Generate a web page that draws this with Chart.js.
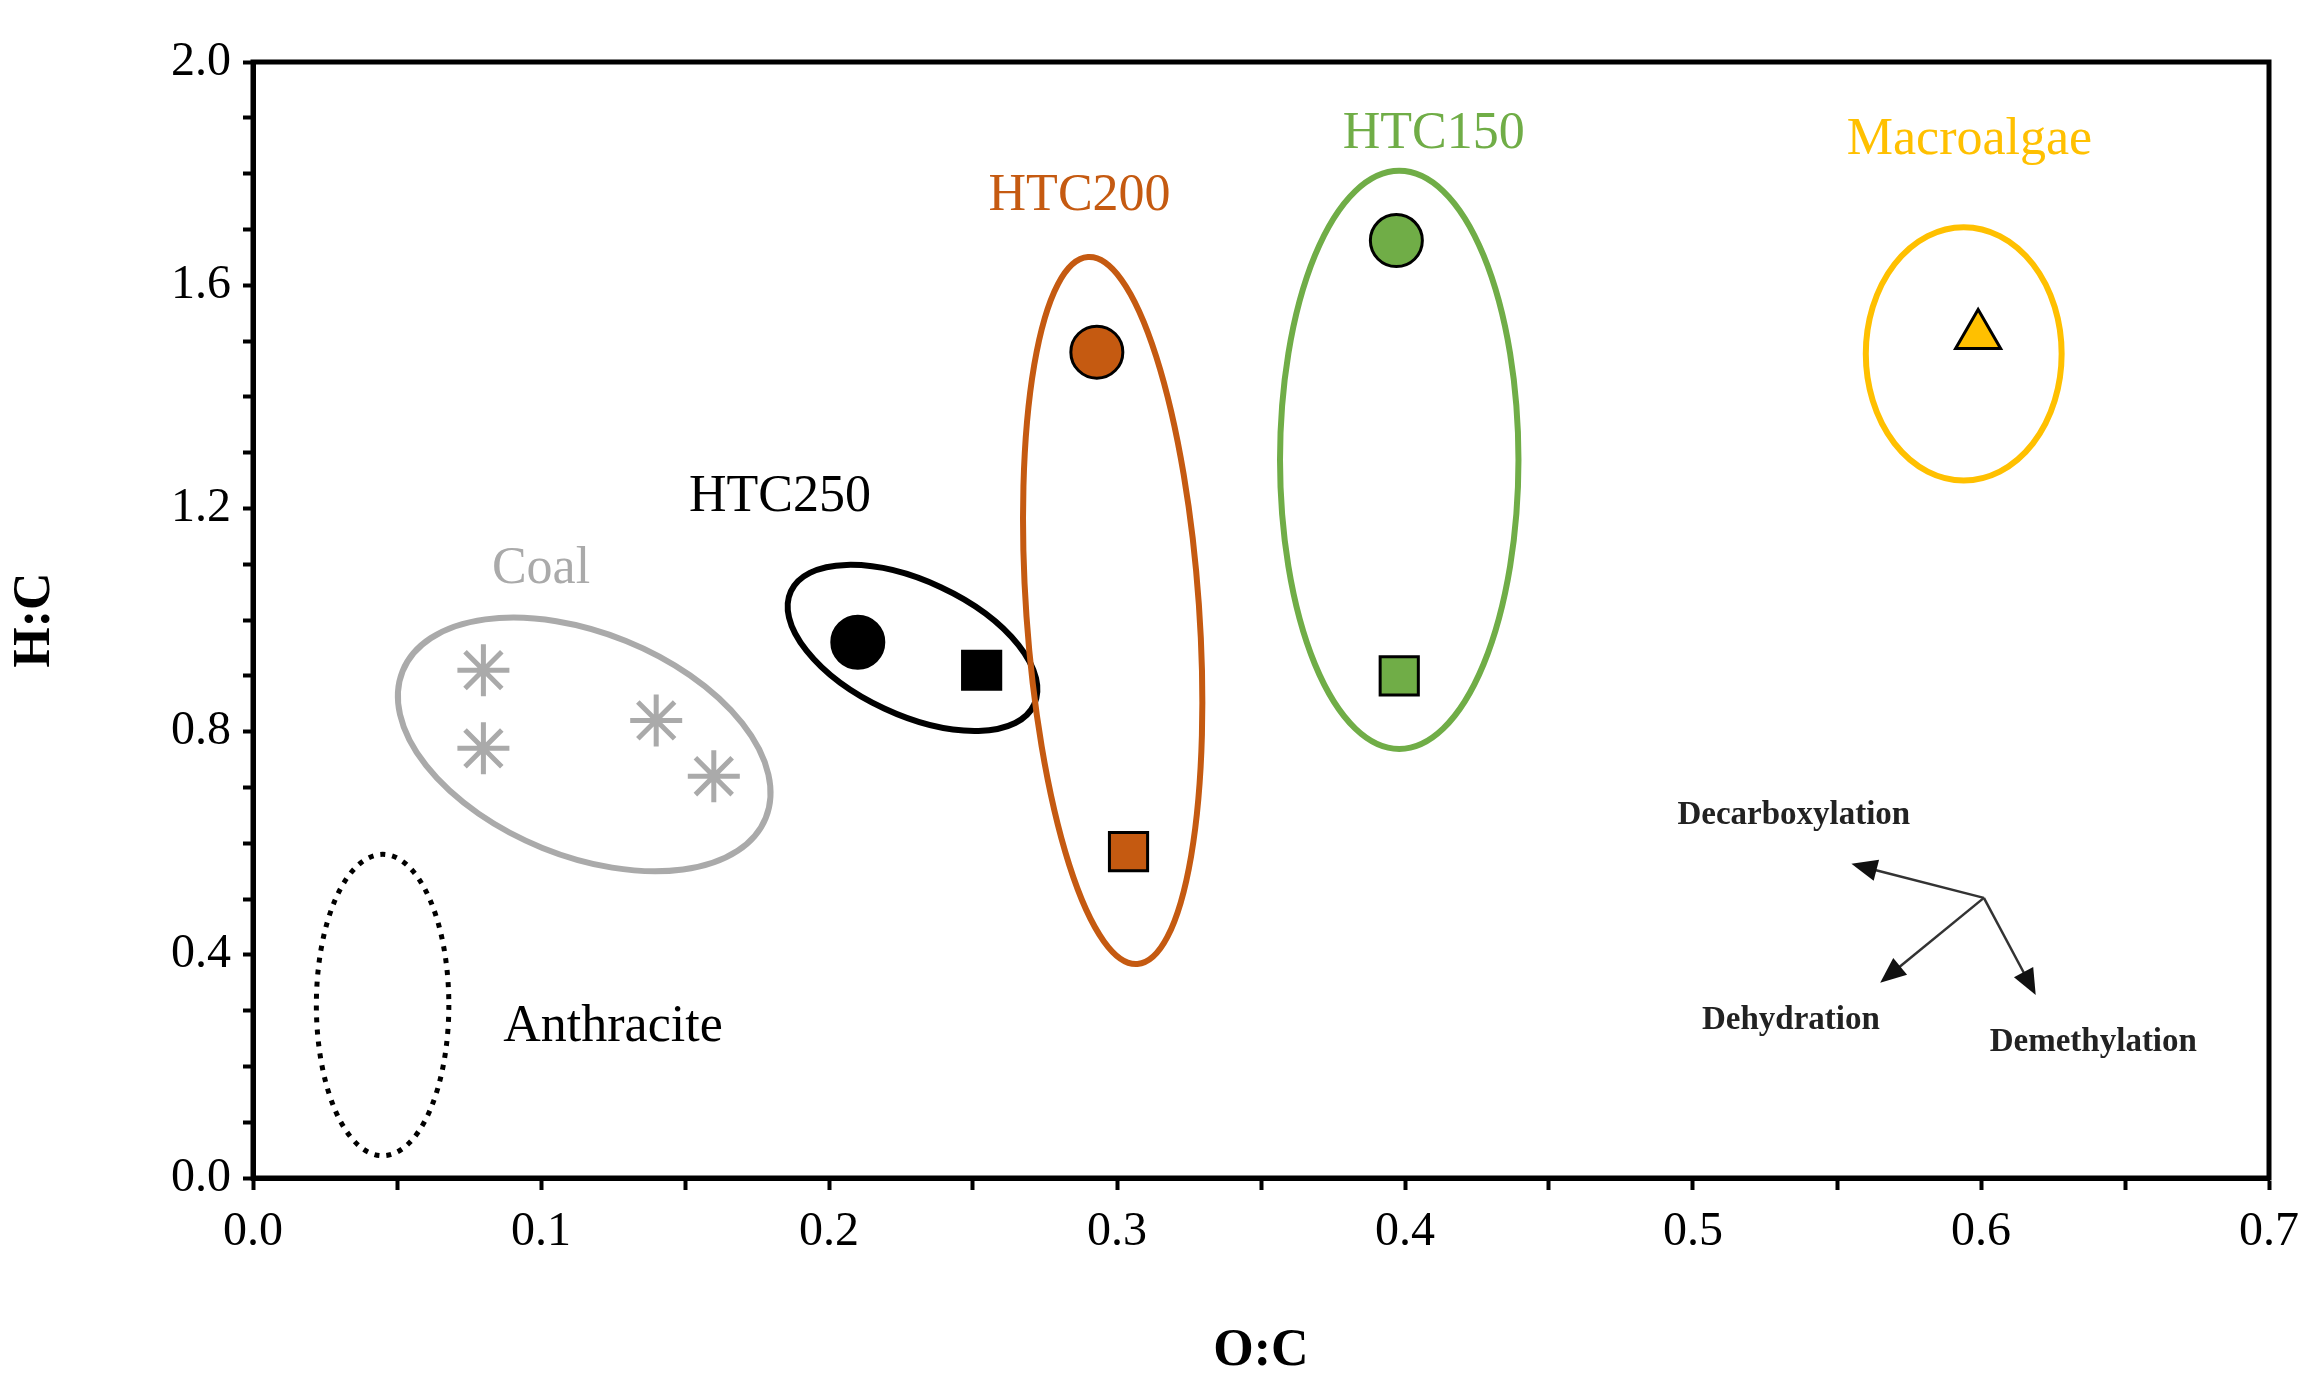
<!DOCTYPE html>
<html><head><meta charset="utf-8">
<script src="https://cdn.jsdelivr.net/npm/chart.js@4"></script>
<style>html,body{margin:0;padding:0;background:#fff}#c{display:block}</style>
</head><body>
<canvas id="c" width="2324" height="1387"></canvas>
<script>
const coal = [{x:0.08,y:0.91},{x:0.08,y:0.77},{x:0.14,y:0.82},{x:0.16,y:0.72}];
const htc250Circle = [{x:0.21,y:0.96}], htc250Square = [{x:0.253,y:0.91}];
const htc200Circle = [{x:0.293,y:1.48}], htc200Square = [{x:0.304,y:0.585}];
const htc150Circle = [{x:0.397,y:1.68}], htc150Square = [{x:0.398,y:0.90}];
const macroalgae = [{x:0.599,y:1.51}];
// ellipses: center x,y, radius x (data), radius y (data), rotation deg, color, dashed
const ellipses = [
 {cx:0.045,cy:0.31,rx:0.023,ry:0.27,rot:0,color:'#000',dash:true},
 {cx:0.115,cy:0.777,rx:0.068,ry:0.2,rot:22,color:'#aaaaaa'},
 {cx:0.229,cy:0.95,rx:0.0466,ry:0.12,rot:25,color:'#000'},
 {cx:0.2985,cy:1.017,rx:0.030,ry:0.635,rot:-4,color:'#c55a11'},
 {cx:0.398,cy:1.287,rx:0.0414,ry:0.518,rot:0,color:'#70ad47'},
 {cx:0.594,cy:1.477,rx:0.034,ry:0.227,rot:0,color:'#ffc000'}
];
const labels = [
 {t:'HTC150',x:0.41,y:1.87,c:'#70ad47',s:52},
 {t:'HTC200',x:0.287,y:1.76,c:'#c55a11',s:52},
 {t:'Macroalgae',x:0.596,y:1.86,c:'#ffc000',s:52},
 {t:'HTC250',x:0.183,y:1.22,c:'#000',s:52},
 {t:'Coal',x:0.1,y:1.09,c:'#aaaaaa',s:52},
 {t:'Anthracite',x:0.125,y:0.27,c:'#000',s:52},
 {t:'Decarboxylation',x:0.535,y:0.649,c:'#222',s:33,b:true},
 {t:'Dehydration',x:0.534,y:0.283,c:'#222',s:33,b:true},
 {t:'Demethylation',x:0.639,y:0.243,c:'#222',s:33,b:true}
];
const arrowOrigin = {x:0.601,y:0.502};
const arrowTips = [{x:0.555,y:0.563},{x:0.565,y:0.35},{x:0.619,y:0.328}];

const F='"Liberation Serif","Times New Roman",serif';
const overlay = {id:'overlay', afterDatasetsDraw(ch){
  const {ctx,scales:{x,y},chartArea:a}=ch;
  ctx.save();
  ctx.strokeStyle='#000';ctx.lineWidth=5;ctx.strokeRect(a.left,a.top,a.right-a.left,a.bottom-a.top);
  ellipses.forEach(e=>{
    const px=x.getPixelForValue(e.cx), py=y.getPixelForValue(e.cy);
    const rx=Math.abs(x.getPixelForValue(e.cx+e.rx)-px), ry=Math.abs(y.getPixelForValue(e.cy+e.ry)-py);
    ctx.beginPath();ctx.ellipse(px,py,rx,ry,e.rot*Math.PI/180,0,2*Math.PI);
    ctx.strokeStyle=e.color;ctx.lineWidth=e.dash?5:6;ctx.setLineDash(e.dash?[5,7]:[]);ctx.stroke();
  });
  ctx.setLineDash([]);
  const ox=x.getPixelForValue(arrowOrigin.x), oy=y.getPixelForValue(arrowOrigin.y);
  ctx.strokeStyle='#333';ctx.fillStyle='#111';ctx.lineWidth=2.5;
  arrowTips.forEach(t=>{
    const tx=x.getPixelForValue(t.x), ty=y.getPixelForValue(t.y);
    const ang=Math.atan2(ty-oy,tx-ox), L=28;
    ctx.beginPath();ctx.moveTo(ox,oy);ctx.lineTo(tx-Math.cos(ang)*L*0.8,ty-Math.sin(ang)*L*0.8);ctx.stroke();
    ctx.beginPath();ctx.moveTo(tx,ty);
    ctx.lineTo(tx-L*Math.cos(ang-0.4),ty-L*Math.sin(ang-0.4));
    ctx.lineTo(tx-L*Math.cos(ang+0.4),ty-L*Math.sin(ang+0.4));ctx.closePath();ctx.fill();
  });
  ctx.textAlign='center';ctx.textBaseline='middle';
  labels.forEach(l=>{ctx.fillStyle=l.c;ctx.font=(l.b?'bold ':'')+l.s+'px '+F;
    ctx.fillText(l.t,x.getPixelForValue(l.x),y.getPixelForValue(l.y));});
  ctx.restore();
}};
const ds=(data,style,color,r,border)=>({data,pointStyle:style,backgroundColor:color,borderColor:border||'#000',pointRadius:r,pointBorderWidth:style==='star'?5:3,showLine:false});
new Chart(document.getElementById('c'),{
 type:'scatter',
 data:{datasets:[
  ds(coal,'star','#aaaaaa',26,'#aaaaaa'),
  ds(htc250Circle,'circle','#000',26),ds(htc250Square,'rect','#000',27),
  ds(htc200Circle,'circle','#c55a11',26),ds(htc200Square,'rect','#c55a11',27),
  ds(htc150Circle,'circle','#70ad47',26),ds(htc150Square,'rect','#70ad47',27),
  ds(macroalgae,'triangle','#ffc000',26)
 ]},
 options:{responsive:false,animation:false,devicePixelRatio:1,
  layout:{padding:{top:62,right:55,left:0,bottom:0}},
  plugins:{legend:{display:false},tooltip:{enabled:false}},
  scales:{
   x:{min:0,max:0.7,afterFit(s){s.height=209;},
      ticks:{stepSize:0.05,color:'#000',font:{family:F,size:48},padding:14,
        callback:v=>Math.abs(v*10-Math.round(v*10))<1e-6?v.toFixed(1):''},
      grid:{drawOnChartArea:false,tickLength:12,tickColor:'#000',tickWidth:4},border:{color:'#000',width:5},
      title:{display:true,text:'O:C',color:'#000',font:{family:F,size:52,weight:'bold'},padding:{top:6}}},
   y:{min:0,max:2,afterFit(s){s.width=253;},
      ticks:{stepSize:0.1,color:'#000',font:{family:F,size:48},padding:12,autoSkip:false,
        callback:v=>Math.abs(v/0.4-Math.round(v/0.4))<1e-6?v.toFixed(1):''},
      grid:{drawOnChartArea:false,tickLength:10,tickColor:'#000',tickWidth:4},border:{color:'#000',width:5},
      title:{display:true,text:'H:C',color:'#000',font:{family:F,size:52,weight:'bold'},padding:{bottom:10}}}
  }},
 plugins:[overlay]
});
</script></body></html>
